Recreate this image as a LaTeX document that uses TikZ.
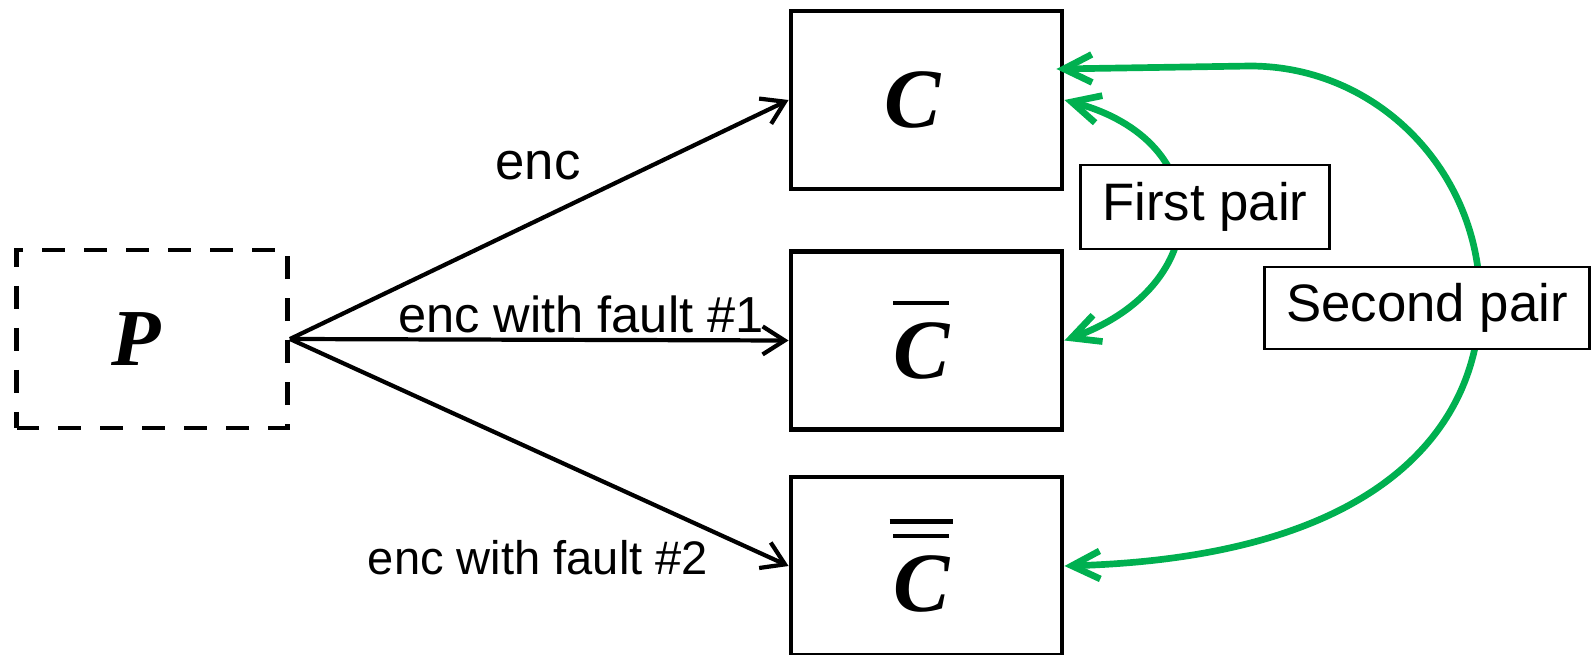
\documentclass[tikz,border=0pt]{standalone}
\usepackage{fontspec}
\setmainfont{Liberation Sans}
\newfontfamily\symfont{Liberation Serif}
\usetikzlibrary{arrows.meta,calc}
\definecolor{pairgreen}{RGB}{0,176,80}

\newcommand{\symP}{{\fontsize{23}{27}\selectfont\symfont\bfseries\itshape P}}
\newcommand{\symC}{{\fontsize{24}{28}\selectfont\symfont\bfseries\itshape C}}
\newcommand{\onebar}[1]{\vbox{\hrule height 1.2pt\kern 5pt\hbox{#1}}}
\newcommand{\twobar}[1]{\vbox{\hrule height 1.2pt\kern 3pt\hbox{\kern 1pt\vbox{\hrule height 1.2pt\kern 5pt\hbox{#1}}\kern 1pt}}}

\begin{document}
\begin{tikzpicture}[
  box/.style={draw,rectangle,line width=1.4pt,minimum width=2.71cm,minimum height=1.78cm},
  tag/.style={draw,rectangle,fill=white,line width=0.6pt,minimum width=2.49cm,minimum height=0.84cm,font=\fontsize{15}{18}\selectfont},
  blackarrow/.style={line width=1.2pt,-{Straight Barb[length=2.2mm,width=2.8mm]}},
  pairarrow/.style={pairgreen,line width=1.9pt,{Straight Barb[length=2.8mm,width=2.8mm]}-{Straight Barb[length=2.8mm,width=2.8mm]}},
  font=\fontsize{14.4}{17}\selectfont]
\useasboundingbox (0,0) rectangle (15.92,-6.55);
%\draw [thin,gray] (0,0) rectangle (15.92,-6.55);
\node [box,dash pattern=on 0.23cm off 0.19cm] (p) at(1.52,-3.39){\symP\kern 9pt};
\node [box] (c1) at(9.265,-1.00){\symC\kern 8pt};
\node [box] (c2) at(9.265,-3.405){\onebar{\symC}\kern 3pt};
\node [box] (c3) at(9.265,-5.66){\twobar{\symC}\kern 3pt};
\coordinate (c1top) at ($(c1.east)+(-0.08,0.31)$);
\draw[blackarrow](p.east) -- (c1.west);
\draw[blackarrow](p.east) -- (c2.west);
\draw[blackarrow](p.east) -- (c3.west);
\node [font=\fontsize{15}{18}\selectfont] (lenc) at(5.38,-1.66){enc};
\node (lfault1) at(5.81,-3.14){enc with fault \#1};
\node [font=\fontsize{13.4}{16}\selectfont] (lfault2) at(5.38,-5.58){enc with fault \#2};
\draw[pairarrow](c1.east) to[out=-15,in=20,looseness=1.7] (c2.east);
\draw[pairarrow](c1top) -- (12.5,-0.66) to[out=0,in=90] (14.8,-3.0) .. controls (14.8,-4.1) and (14.02,-5.56) .. (c3.east);
\node [tag] (first) at(12.05,-2.07){First pair};
\node [tag,minimum width=3.25cm,minimum height=0.82cm] (second) at(14.27,-3.08){Second pair};
\end{tikzpicture}
\end{document}
